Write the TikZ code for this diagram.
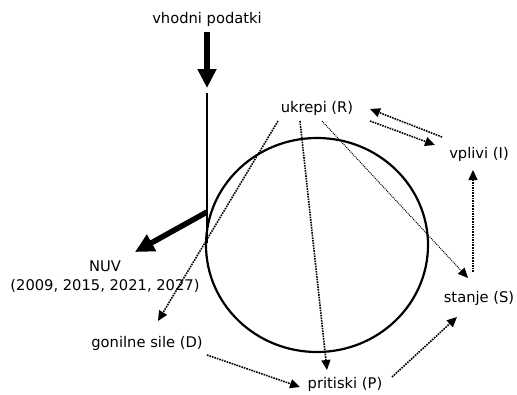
\documentclass[tikz,border=0pt]{standalone}
\usepackage{fontspec}
\setmainfont{DejaVu Sans}
\usetikzlibrary{arrows.meta}
\begin{document}
\begin{tikzpicture}[x=1pt,y=-1pt,
  lbl/.style={font=\fontsize{14.7}{19}\selectfont, inner sep=1pt},
  dotarrow/.style={densely dotted, line width=1.6pt, -{Triangle[length=10pt,width=9pt]}},
  thinarrow/.style={densely dotted, line width=1pt, -{Triangle[length=10pt,width=9pt]}},
  bigarrow/.style={line width=5.5pt, -{Triangle[length=19pt,width=18pt]}}]
\useasboundingbox (0,0) rectangle (517,394);
\fill[white] (0,0) rectangle (517,394);
\draw[line width=2.2pt] (317,245) ellipse [x radius=111pt, y radius=107pt];

\node[lbl] (in) at (207,19) {vhodni podatki};
\node[lbl] (R) at (317,108) {ukrepi (R)};
\node[lbl] (I) at (479,154) {vplivi (I)};
\node[lbl] (S) at (479,298) {stanje (S)};
\node[lbl] (P) at (345,384) {pritiski (P)};
\node[lbl] (D) at (147,343) {gonilne sile (D)};
\node[lbl, align=center] (N) at (105,277) {NUV\\(2009, 2015, 2021, 2027)};

\coordinate (a0) at (207,32);
\coordinate (a1) at (207,88);
\coordinate (v0) at (207,93);
\coordinate (v1) at (207,243);
\coordinate (n0) at (207,212);
\coordinate (n1) at (135,252);

\coordinate (ri) at (370,121);
\coordinate (ir) at (435,145);
\coordinate (ir2) at (442,137);
\coordinate (ri2) at (370,109);
\coordinate (rd) at (278,121);
\coordinate (dr) at (158,321);
\coordinate (rp) at (300,121);
\coordinate (pr) at (327,370);
\coordinate (rs) at (322,121);
\coordinate (sr) at (468,278);
\coordinate (si) at (473,272);
\coordinate (is) at (473,170);
\coordinate (dp) at (207,355);
\coordinate (pd) at (300,387);
\coordinate (ps) at (392,377);
\coordinate (sp) at (457,317);

\draw[bigarrow] (a0) -- (a1);
\draw[line width=2pt] (v0) -- (v1);
\draw[bigarrow] (n0) -- (n1);

\draw[dotarrow] (ri) -- (ir);
\draw[dotarrow] (ir2) -- (ri2);
\draw[dotarrow] (rd) -- (dr);
\draw[dotarrow] (rp) -- (pr);
\draw[thinarrow] (rs) -- (sr);
\draw[dotarrow] (si) -- (is);
\draw[dotarrow] (dp) -- (pd);
\draw[dotarrow] (ps) -- (sp);
\end{tikzpicture}
\end{document}
